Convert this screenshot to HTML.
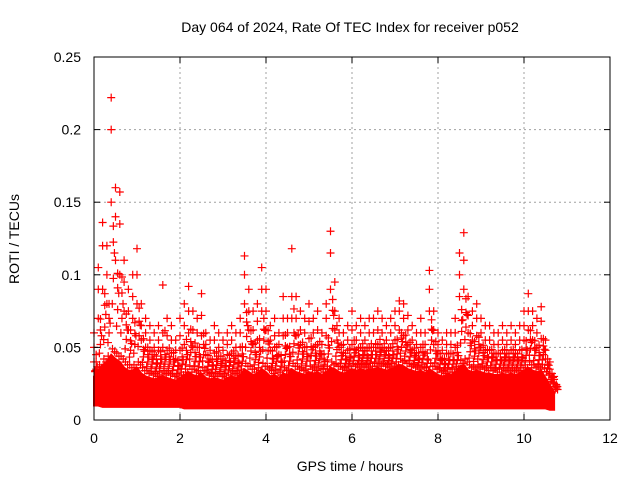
<!DOCTYPE html>
<html><head><meta charset="utf-8"><style>
body{margin:0;background:#fff;}
svg{display:block;font-family:"Liberation Sans",sans-serif;}
</style></head><body>
<svg id="chart" width="640" height="480" viewBox="0 0 640 480">
<rect width="640" height="480" fill="#fff"/>
<g id="grid"></g>
<g id="band"></g>
<g id="points"></g>
<g id="axes"></g>
<text x="350" y="32" font-size="14" text-anchor="middle">Day 064 of 2024, Rate Of TEC Index for receiver p052</text>
<text transform="translate(19,239) rotate(-90)" font-size="14" text-anchor="middle">ROTI / TECUs</text>
<text x="350" y="471" font-size="14" text-anchor="middle">GPS time / hours</text>
</svg>
<script>
const xTicks=[0,2,4,6,8,10,12];
const yTicks=[0,0.05,0.1,0.15,0.2,0.25];
const yTickLabels=["0","0.05","0.1","0.15","0.2","0.25"];
const binTimes=[0,0.1,0.2,0.3,0.4,0.5,0.6,0.7,0.8,0.9,1,1.1,1.2,1.3,1.4,1.5,1.6,1.7,1.8,1.9,2,2.1,2.2,2.3,2.4,2.5,2.6,2.7,2.8,2.9,3,3.1,3.2,3.3,3.4,3.5,3.6,3.7,3.8,3.9,4,4.1,4.2,4.3,4.4,4.5,4.6,4.7,4.8,4.9,5,5.1,5.2,5.3,5.4,5.5,5.6,5.7,5.8,5.9,6,6.1,6.2,6.3,6.4,6.5,6.6,6.7,6.8,6.9,7,7.1,7.2,7.3,7.4,7.5,7.6,7.7,7.8,7.9,8,8.1,8.2,8.3,8.4,8.5,8.6,8.7,8.8,8.9,9,9.1,9.2,9.3,9.4,9.5,9.6,9.7,9.8,9.9,10,10.1,10.2,10.3,10.4,10.5,10.6,10.7];
const peakValues=[0.06,0.105,0.136,0.12,0.222,0.16,0.157,0.11,0.09,0.1,0.118,0.08,0.07,0.065,0.06,0.065,0.093,0.07,0.065,0.055,0.07,0.08,0.092,0.075,0.07,0.087,0.06,0.055,0.065,0.06,0.055,0.06,0.065,0.06,0.07,0.113,0.09,0.075,0.08,0.105,0.09,0.065,0.07,0.06,0.085,0.07,0.118,0.085,0.075,0.07,0.08,0.07,0.075,0.06,0.08,0.13,0.095,0.07,0.06,0.065,0.075,0.065,0.07,0.065,0.07,0.07,0.075,0.07,0.065,0.07,0.075,0.082,0.08,0.072,0.065,0.06,0.07,0.06,0.103,0.075,0.06,0.055,0.06,0.06,0.07,0.115,0.129,0.085,0.075,0.08,0.07,0.065,0.065,0.06,0.06,0.065,0.06,0.065,0.06,0.065,0.075,0.087,0.075,0.07,0.078,0.055,0.04,0.03];
const midValues=[0.05,0.09,0.12,0.1,0.2,0.14,0.135,0.095,0.075,0.085,0.1,0.065,0.06,0.055,0.05,0.055,0.06,0.058,0.055,0.048,0.058,0.065,0.075,0.062,0.06,0.072,0.052,0.048,0.055,0.05,0.048,0.052,0.055,0.05,0.06,0.1,0.075,0.062,0.068,0.09,0.075,0.055,0.058,0.052,0.07,0.06,0.085,0.07,0.062,0.06,0.068,0.06,0.062,0.052,0.07,0.115,0.075,0.06,0.052,0.055,0.062,0.055,0.06,0.055,0.06,0.06,0.062,0.06,0.055,0.06,0.065,0.075,0.07,0.062,0.055,0.052,0.06,0.052,0.09,0.062,0.052,0.048,0.052,0.052,0.06,0.1,0.11,0.072,0.065,0.07,0.06,0.055,0.055,0.052,0.052,0.055,0.052,0.055,0.052,0.055,0.065,0.075,0.065,0.06,0.068,0.048,0.035,0.028];
const lowValues=[0.04,0.07,0.09,0.08,0.15,0.11,0.1,0.075,0.062,0.07,0.08,0.055,0.05,0.048,0.045,0.048,0.05,0.048,0.046,0.042,0.048,0.052,0.06,0.05,0.05,0.058,0.045,0.042,0.046,0.044,0.042,0.045,0.046,0.044,0.05,0.08,0.062,0.052,0.055,0.075,0.062,0.048,0.05,0.045,0.058,0.05,0.07,0.058,0.052,0.05,0.056,0.05,0.052,0.045,0.058,0.09,0.062,0.05,0.046,0.048,0.052,0.048,0.05,0.048,0.05,0.05,0.052,0.05,0.048,0.05,0.055,0.062,0.058,0.052,0.048,0.046,0.05,0.046,0.075,0.052,0.046,0.042,0.046,0.046,0.05,0.085,0.09,0.06,0.055,0.058,0.05,0.048,0.048,0.046,0.046,0.048,0.046,0.048,0.046,0.048,0.055,0.062,0.055,0.05,0.056,0.042,0.032,0.025];
const bandHigh=[0.03,0.034,0.038,0.04,0.045,0.042,0.04,0.036,0.034,0.034,0.036,0.032,0.03,0.029,0.028,0.029,0.03,0.029,0.028,0.027,0.029,0.031,0.033,0.031,0.03,0.032,0.029,0.028,0.029,0.028,0.027,0.029,0.03,0.029,0.031,0.035,0.033,0.031,0.032,0.035,0.033,0.03,0.031,0.029,0.032,0.031,0.035,0.033,0.032,0.031,0.033,0.032,0.033,0.031,0.033,0.036,0.035,0.033,0.032,0.033,0.035,0.034,0.035,0.034,0.035,0.035,0.036,0.035,0.034,0.035,0.036,0.038,0.037,0.035,0.034,0.033,0.034,0.032,0.035,0.033,0.031,0.03,0.031,0.031,0.033,0.037,0.038,0.034,0.033,0.034,0.033,0.032,0.032,0.031,0.031,0.032,0.031,0.032,0.031,0.032,0.034,0.036,0.034,0.033,0.034,0.029,0.024,0.019];
const bandLow=[0.01,0.01,0.009,0.009,0.009,0.009,0.009,0.009,0.009,0.009,0.009,0.009,0.009,0.009,0.009,0.009,0.009,0.009,0.009,0.009,0.009,0.008,0.008,0.008,0.008,0.008,0.008,0.008,0.008,0.008,0.008,0.008,0.008,0.008,0.008,0.008,0.008,0.008,0.008,0.008,0.008,0.008,0.008,0.008,0.008,0.008,0.008,0.008,0.008,0.008,0.008,0.008,0.008,0.008,0.008,0.008,0.008,0.008,0.008,0.008,0.008,0.008,0.008,0.008,0.008,0.008,0.008,0.008,0.008,0.008,0.008,0.008,0.008,0.008,0.008,0.008,0.008,0.008,0.008,0.008,0.008,0.008,0.008,0.008,0.008,0.008,0.008,0.008,0.008,0.008,0.008,0.008,0.008,0.008,0.008,0.008,0.008,0.008,0.008,0.008,0.008,0.008,0.008,0.008,0.008,0.008,0.007,0.007];

const L=94,R=610,T=57,B=420;
const xs=v=>L+v/12*(R-L);
const ys=v=>B-v/0.25*(B-T);
const NS="http://www.w3.org/2000/svg";
function mk(tag,parent,attrs){const e=document.createElementNS(NS,tag);for(const k in attrs)e.setAttribute(k,attrs[k]);parent.appendChild(e);return e;}
const grid=document.getElementById('grid'),axes=document.getElementById('axes'),band=document.getElementById('band'),pts=document.getElementById('points');

xTicks.forEach((t,i)=>{
  const x=xs(t);
  if(i>0&&i<xTicks.length-1){const g=mk('line',grid,{x1:x,x2:x,y1:T,y2:B,stroke:'#a0a0a0','stroke-dasharray':'2,3'});
  
  }
  const a=mk('line',axes,{x1:x,x2:x,y1:B,y2:B-6,stroke:'#000'});
  
  
  const a2=mk('line',axes,{x1:x,x2:x,y1:T,y2:T+6,stroke:'#000'});
  
  
  const tx=mk('text',axes,{x:x,y:B+23,'font-size':14,'text-anchor':'middle'});tx.textContent=String(t);
  
  
});
yTicks.forEach((t,i)=>{
  const y=ys(t);
  if(i>0&&i<yTicks.length-1){const g=mk('line',grid,{x1:L,x2:R,y1:y,y2:y,stroke:'#a0a0a0','stroke-dasharray':'2,3'});
  
  }
  const a=mk('line',axes,{x1:L,x2:L+6,y1:y,y2:y,stroke:'#000'});
  
  
  const a2=mk('line',axes,{x1:R,x2:R-6,y1:y,y2:y,stroke:'#000'});
  
  
  const tx=mk('text',axes,{x:L-13,y:y+5,'font-size':14,'text-anchor':'end'});tx.textContent=yTickLabels[i];
  
  
});
const frame=mk('rect',axes,{x:L,y:T,width:R-L,height:B-T,fill:'none',stroke:'#000'});



let d='';
binTimes.forEach((t,i)=>{d+=(i?'L':'M')+xs(t).toFixed(1)+','+ys(bandHigh[i]).toFixed(1);});
for(let i=binTimes.length-1;i>=0;i--)d+='L'+xs(binTimes[i]).toFixed(1)+','+ys(bandLow[i]).toFixed(1);
const area=mk('path',band,{d:d+'Z',fill:'#ff0000',stroke:'#ff0000','stroke-width':2});



function plus(v,t,name,color){
  const x=xs(t),y=ys(v);
  const p=mk('path',pts,{d:`M${x-4},${y}h8M${x},${y-4}v8`,stroke:color,'stroke-width':1.2});
  
  
}
[[lowValues,'roti-point-low'],[midValues,'roti-point-mid'],[peakValues,'roti-point-peak']].forEach(([arr,name])=>{
  arr.forEach((v,i)=>{
    plus(v,binTimes[i],name,'#ff0000');
    plus((v+bandHigh[i])/2,binTimes[i]+0.05,name,'#ff0000');
  });
});
lowValues.forEach((v,i)=>{
  plus((v+2*bandHigh[i])/3,binTimes[i]+0.025,'roti-point-near-band','#ff0000');
  plus((2*v+bandHigh[i])/3,binTimes[i]+0.075,'roti-point-near-band','#ff0000');
});
bandHigh.forEach((v,i)=>{
  plus(v+0.004,binTimes[i]+0.03,'roti-point-band-top','#ff0000');
  plus(v+0.002,binTimes[i]+0.08,'roti-point-band-top','#ff0000');
});
</script>
</body></html>
